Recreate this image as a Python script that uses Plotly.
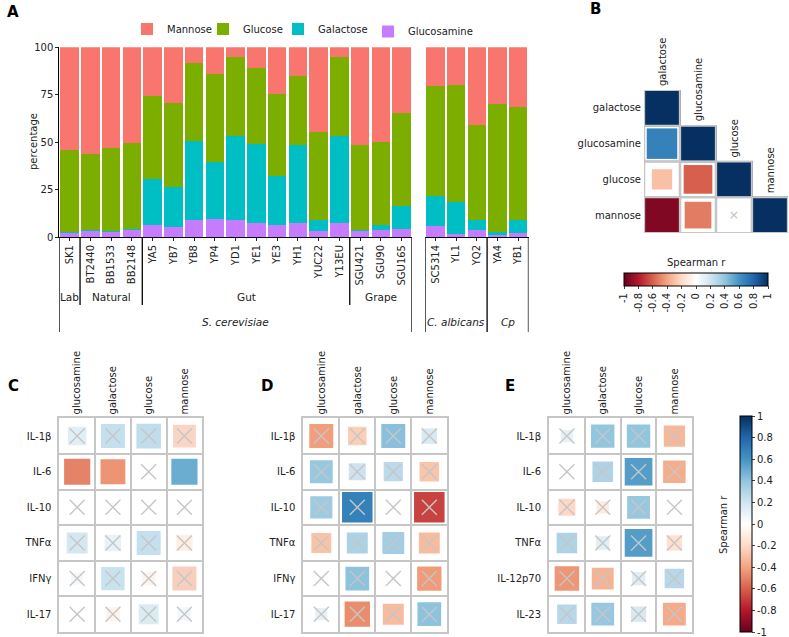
import plotly.graph_objects as go

W, H = 789, 637

# ---- panel A: sugar composition (%) per strain
strains = ["SK1", "BT2440", "BB1533", "BB2148", "YA5", "YB7", "YB8", "YP4", "YD1", "YE1",
           "YE3", "YH1", "YUC22", "Y13EU", "SGU421", "SGU90", "SGU165",
           "SC5314", "YL1", "YQ2", "YA4", "YB1"]
glucosamine = [2.1, 3.2, 3.0, 3.9, 6.2, 5.1, 9.2, 9.5, 9.2, 7.4, 6.2, 7.2, 3.0, 7.2, 3.2, 3.7, 4.0,
               5.8, 1.4, 3.7, 1.1, 2.3]
galactose = [0.4, 0.7, 0.3, 0.2, 24.3, 21.0, 41.5, 30.1, 44.3, 41.5, 26.0, 41.4, 5.8, 45.8, 0.7, 2.5, 12.5,
             15.9, 16.9, 5.1, 1.5, 6.7]
glucose = [43.3, 39.8, 43.7, 45.4, 44.0, 44.7, 41.0, 46.5, 41.6, 40.0, 43.0, 36.3, 46.5, 41.7, 44.7, 44.0, 48.8,
           58.1, 61.8, 50.2, 67.6, 59.5]
mannose = [54.2, 56.3, 53.0, 50.5, 25.5, 29.2, 8.3, 13.9, 4.9, 11.1, 24.8, 15.1, 44.7, 5.3, 51.4, 49.8, 34.7,
           20.2, 19.9, 41.0, 29.8, 31.5]
sources = [("Lab", 1), ("Natural", 3), ("Gut", 10), ("Grape", 3)]
species = [("S. cerevisiae", 17), ("C. albicans", 3), ("Cp", 2)]

# ---- panel B: correlation between sugars (lower triangle)
sugars_b = ["galactose", "glucosamine", "glucose", "mannose"]
corr_b = [[1.0],
          [0.68, 1.0],
          [-0.30, -0.60, 1.0],
          [-0.93, -0.52, 0.01, 1.0]]
sig_b = [[1],
         [1, 1],
         [1, 1, 1],
         [1, 1, 0, 1]]

# ---- panels C, D, E: sugars vs cytokines
sugars = ["glucosamine", "galactose", "glucose", "mannose"]
cyto_c = ["IL-1β", "IL-6", "IL-10", "TNFα", "IFNγ", "IL-17"]
corr_c = [[0.25, 0.42, 0.44, -0.38],
          [-0.50, -0.45, 0.02, 0.50],
          [0.01, -0.01, 0.01, 0.01],
          [0.32, 0.20, 0.42, -0.19],
          [0.10, 0.40, -0.13, -0.42],
          [0.02, -0.14, 0.29, 0.13]]
sig_c = [[0, 0, 0, 0],
         [1, 1, 0, 1],
         [0, 0, 0, 0],
         [0, 0, 0, 0],
         [0, 0, 0, 0],
         [0, 0, 0, 0]]
cyto_d = ["IL-1β", "IL-6", "IL-10", "TNFα", "IFNγ", "IL-17"]
corr_d = [[-0.42, -0.25, 0.42, 0.17],
          [0.38, 0.21, 0.27, -0.28],
          [0.36, 0.68, 0.02, -0.68],
          [-0.29, 0.32, 0.35, -0.32],
          [0.02, 0.41, -0.02, -0.43],
          [0.11, -0.47, -0.32, 0.41]]
sig_d = [[0] * 4 for _ in range(6)]
cyto_e = ["IL-1β", "IL-6", "IL-10", "TNFα", "IL-12p70", "IL-23"]
corr_e = [[0.11, 0.40, 0.40, -0.33],
          [0.02, 0.31, 0.56, -0.37],
          [-0.21, -0.11, 0.38, 0.01],
          [0.31, 0.13, 0.56, -0.17],
          [-0.44, -0.35, 0.13, 0.28],
          [0.28, 0.38, 0.17, -0.38]]
sig_e = [[0] * 4 for _ in range(6)]

corr_ticks = [-1, -0.8, -0.6, -0.4, -0.2, 0, 0.2, 0.4, 0.6, 0.8, 1]

sugar_colors = {"Mannose": "#F8766D", "Glucose": "#7CAE00",
                "Galactose": "#00BFC4", "Glucosamine": "#C77CFF"}
# one small legend per sugar so each entry can sit where the original has it
legend_pos = {"Mannose": ("legend", 127, 29), "Glucose": ("legend2", 203, 29),
              "Galactose": ("legend3", 278, 29), "Glucosamine": ("legend4", 368, 31.5)}
rdbu = [[0.0, "#67001F"], [0.1, "#B2182B"], [0.2, "#D6604D"], [0.3, "#F4A582"],
        [0.4, "#FDDBC7"], [0.5, "#FFFFFF"], [0.6, "#D1E5F0"], [0.7, "#92C5DE"],
        [0.8, "#4393C3"], [0.9, "#2166AC"], [1.0, "#053061"]]
GRID = "#C6C6C6"
FONT = "DejaVu Sans"


def dx(a, b):
    return [a / W, b / W]


def dy(top, bottom):
    return [1 - bottom / H, 1 - top / H]


def py(p):
    return 1 - p / H


fig = go.Figure()

# ---------------- panel A
n1 = species[0][1]
series = [("Glucosamine", glucosamine), ("Galactose", galactose),
          ("Glucose", glucose), ("Mannose", mannose)]
for k, (xa, ya, sl) in enumerate([("x", "y", slice(0, n1)), ("x2", "y2", slice(n1, None))]):
    for name, vals in series:
        fig.add_trace(go.Bar(x=strains[sl], y=vals[sl], name=name, xaxis=xa, yaxis=ya,
                             legend=legend_pos[name][0],
                             marker=dict(color=sugar_colors[name], line=dict(width=0)),
                             showlegend=(k == 0), hoverinfo="skip"))

# ---------------- correlation squares (area proportional to |r|)
FULL = 37.0
SIZEREF = 2.0 / FULL ** 2


def corr_cells(xa, ya, rows, cols, r, sig, cax, ns_alpha, x_size):
    for flag, alpha in ((1, 1.0), (0, ns_alpha)):
        xs, ys, vs = [], [], []
        for i, row in enumerate(rows):
            for j, v in enumerate(r[i]):
                if sig[i][j] == flag:
                    xs.append(cols[j]); ys.append(row); vs.append(v)
        if not xs:
            continue
        fig.add_trace(go.Scatter(
            x=xs, y=ys, mode="markers", xaxis=xa, yaxis=ya, showlegend=False, hoverinfo="skip",
            marker=dict(symbol="square", size=[abs(v) for v in vs], sizemode="area", sizeref=SIZEREF,
                        color=vs, coloraxis=cax, opacity=alpha, line=dict(width=0))))
        if flag == 0:
            fig.add_trace(go.Scatter(
                x=xs, y=ys, mode="markers", xaxis=xa, yaxis=ya, showlegend=False, hoverinfo="skip",
                marker=dict(symbol="x-thin", size=x_size, color=GRID,
                            line=dict(color=GRID, width=1.4))))


# panel B cells (lower triangle only)
bx, by = [], []
for i, row in enumerate(sugars_b):
    for j in range(i + 1):
        bx.append(sugars_b[j]); by.append(row)


def b_cells(fill):
    fig.add_trace(go.Scatter(x=bx, y=by, mode="markers", xaxis="x3", yaxis="y3", showlegend=False,
                             hoverinfo="skip",
                             marker=dict(symbol="square", size=35.5, color=fill,
                                         line=dict(color=GRID, width=1.8))))


b_cells("white")
corr_cells("x3", "y3", sugars_b, sugars_b, corr_b, sig_b, "coloraxis", 1.0, 6.5)
b_cells("rgba(0,0,0,0)")
corr_cells("x4", "y4", cyto_c, sugars, corr_c, sig_c, "coloraxis2", 0.5, 15)
corr_cells("x5", "y5", cyto_d, sugars, corr_d, sig_d, "coloraxis2", 1.0, 15)
corr_cells("x6", "y6", cyto_e, sugars, corr_e, sig_e, "coloraxis2", 1.0, 15)

# ---------------- layout
tick_font = dict(family=FONT, size=10, color="#222")
A_TOP, A_BOT = 47.3, 237
layout = dict(
    width=W, height=H, margin=dict(l=0, r=0, t=0, b=0, autoexpand=False), autosize=False,
    paper_bgcolor="white", plot_bgcolor="rgba(0,0,0,0)",
    font=dict(family=FONT, size=10, color="#222"),
    barmode="stack", bargap=0.11,
    xaxis=dict(domain=dx(59.3, 412), anchor="y", type="category", categoryorder="array",
               categoryarray=strains[:n1], range=[-0.5, n1 - 0.5], tickangle=-90,
               ticks="outside", ticklen=3, tickcolor="#222", showline=True, linecolor="black",
               showgrid=False, zeroline=False, tickfont=tick_font),
    yaxis=dict(domain=dy(A_TOP, A_BOT), anchor="x", range=[0, 100], tickvals=[0, 25, 50, 75, 100],
               ticks="outside", ticklen=3, tickcolor="#222", showline=True, linecolor="black",
               showgrid=False, zeroline=False, tickfont=tick_font),
    xaxis2=dict(domain=dx(425, 528.5), anchor="y2", type="category", categoryorder="array",
                categoryarray=strains[n1:], range=[-0.5, len(strains) - n1 - 0.5], tickangle=-90,
                ticks="outside", ticklen=3, tickcolor="#222", showline=True, linecolor="black",
                showgrid=False, zeroline=False, tickfont=tick_font),
    yaxis2=dict(domain=dy(A_TOP, A_BOT), anchor="x2", range=[0, 100], visible=False),
    xaxis3=dict(domain=dx(644, 788), anchor="y3", type="category", categoryorder="array",
                categoryarray=sugars_b, range=[-0.5, 3.5], showticklabels=False, ticks="",
                showgrid=False, zeroline=False, showline=False),
    yaxis3=dict(domain=dy(90, 233), anchor="x3", type="category", categoryorder="array",
                categoryarray=sugars_b, range=[3.5, -0.5], ticks="", showgrid=False,
                zeroline=False, showline=False, tickfont=tick_font, ticklabelstandoff=2),
    coloraxis=dict(colorscale=rdbu, cmin=-1, cmax=1,
                   colorbar=dict(orientation="h", x=696 / W, xanchor="center", y=py(273),
                                 yanchor="top", len=144, lenmode="pixels", thickness=13,
                                 xpad=0, ypad=0, outlinecolor="black", outlinewidth=1,
                                 tickvals=corr_ticks, ticktext=[f"{v:g}" for v in corr_ticks],
                                 ticks="outside", ticklen=3, tickangle=-90, tickfont=tick_font,
                                 ticklabeloverflow="allow")),
    coloraxis2=dict(colorscale=rdbu, cmin=-1, cmax=1,
                    colorbar=dict(orientation="v", x=740 / W, xanchor="left", y=py(524),
                                  yanchor="middle", len=216, lenmode="pixels", thickness=12,
                                  xpad=0, ypad=0, outlinecolor="black", outlinewidth=1,
                                  tickvals=corr_ticks, ticktext=[f"{v:g}" for v in corr_ticks],
                                  ticks="outside", ticklen=3, tickfont=tick_font,
                                  ticklabeloverflow="allow")),
)
for name, (lg, lx, ly) in legend_pos.items():
    layout[lg] = dict(orientation="h", x=lx / W, y=py(ly), xanchor="left", yanchor="middle",
                      font=dict(family=FONT, size=10), bgcolor="rgba(0,0,0,0)")

heat_panels = [("4", 59.3, 202.3, cyto_c), ("5", 303.3, 447.3, cyto_d), ("6", 549, 692.3, cyto_e)]
for n, x0, x1, rows in heat_panels:
    layout["xaxis" + n] = dict(domain=dx(x0, x1), anchor="y" + n, side="top", type="category",
                               categoryorder="array", categoryarray=sugars, range=[-0.5, 3.5],
                               tickangle=-90, ticks="", tickson="boundaries", showgrid=True,
                               gridcolor=GRID, gridwidth=1.8, showline=True, mirror=True,
                               linecolor=GRID, linewidth=1.8, zeroline=False, tickfont=tick_font)
    layout["yaxis" + n] = dict(domain=dy(418.3, 632), anchor="x" + n, type="category",
                               categoryorder="array", categoryarray=rows, range=[5.5, -0.5],
                               ticks="", tickson="boundaries", showgrid=True, gridcolor=GRID,
                               gridwidth=1.8, showline=True, mirror=True, linecolor=GRID,
                               linewidth=1.8, zeroline=False, tickfont=tick_font,
                               ticklabelstandoff=4)
fig.update_layout(**layout)

# ---------------- panel A group brackets and labels
SHORT_END, LONG_END = 305, 332
shapes, annos = [], []


def vline(xref, xv, end):
    shapes.append(dict(type="line", xref=xref, yref="paper", x0=xv, x1=xv,
                       y0=py(A_BOT), y1=py(end), line=dict(color="black", width=1.3)))


def label(xref, xv, ypx, text, **kw):
    annos.append(dict(xref=xref, yref="paper", x=xv, y=py(ypx), text=text, showarrow=False,
                      xanchor="center", yanchor="middle", font=dict(size=kw.pop("size", 10.5)), **kw))


pos = -0.5
vline("x", pos, LONG_END)
for k, (name, cnt) in enumerate(sources):
    label("x", pos + cnt / 2, 297, name)
    pos += cnt
    vline("x", pos, LONG_END if k == len(sources) - 1 else SHORT_END)
label("x", -0.5 + species[0][1] / 2, 322, "<i>" + species[0][0] + "</i>")
pos = -0.5
vline("x2", pos, LONG_END)
for name, cnt in species[1:]:
    label("x2", pos + cnt / 2, 322, "<i>" + name + "</i>")
    pos += cnt
    vline("x2", pos, LONG_END)

# y title of panel A
label("paper", 33 / W, 142, "percentage", size=10, textangle=-90)

# panel B column labels sit on the diagonal
for i, s in enumerate(sugars_b):
    annos.append(dict(xref="x3", yref="y3", x=i, y=i - 0.5, text=s, textangle=-90,
                      showarrow=False, xanchor="center", yanchor="bottom", yshift=2,
                      font=dict(size=10)))

# colourbar titles
label("paper", 696 / W, 263, "Spearman r", size=10)
label("paper", 723 / W, 525, "Spearman r", size=10, textangle=-90)

# panel letters
for letter, lx, ly in [("A", 13, 12), ("B", 595, 9), ("C", 13.5, 386), ("D", 267, 386), ("E", 510, 386)]:
    annos.append(dict(xref="paper", yref="paper", x=lx / W, y=py(ly), text="<b>" + letter + "</b>",
                      showarrow=False, xanchor="center", yanchor="middle",
                      font=dict(size=15, color="black")))

fig.update_layout(shapes=shapes, annotations=annos)

fig.write_html("out.html", config={"displayModeBar": False},
               post_script="document.body.style.margin='0';")
